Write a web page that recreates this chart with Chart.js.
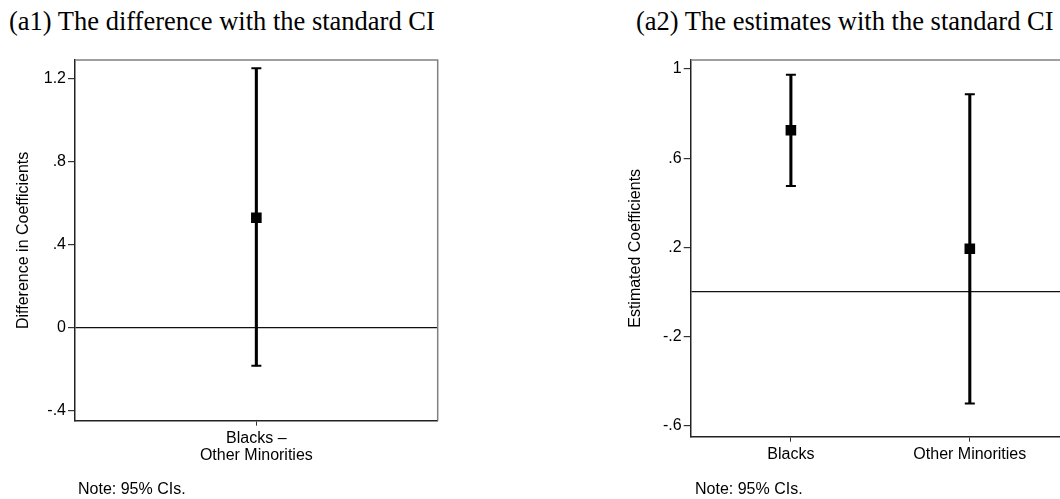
<!DOCTYPE html>
<html>
<head>
<meta charset="utf-8">
<script src="https://cdn.jsdelivr.net/npm/chart.js@4"></script>
<style>
  body { margin: 0; width: 1060px; height: 499px; overflow: hidden; background: #fff; position: relative; }
  canvas { position: absolute; top: 0; }
  .title { position: absolute; top: 8px; font: 26.5px "Liberation Serif", serif; line-height: 26px; color: #000; white-space: nowrap; }
  .note { position: absolute; top: 481px; font: 16px "Liberation Sans", Arial, sans-serif; line-height: 16px; color: #000; white-space: nowrap; }
</style>
</head>
<body>
<div class="title" style="left:9px">(a1) The difference with the standard CI</div>
<div class="title" style="left:636px">(a2) The estimates with the standard CI</div>
<canvas id="diffChart" width="530" height="499" style="left:0"></canvas>
<canvas id="estChart" width="600" height="499" style="left:530px"></canvas>
<div class="note" style="left:78px">Note: 95% CIs.</div>
<div class="note" style="left:695px">Note: 95% CIs.</div>
<script>
// (a1) difference
const diffLabels = [["Blacks \u2013", "Other Minorities"]];
const diffEst = [0.530];
const diffLow = [-0.183];
const diffHigh = [1.249];
const diffTicks = [-0.4, 0, 0.4, 0.8, 1.2];

// (a2) estimates
const estLabels = ["Blacks", "Other Minorities"];
const estEst = [0.725, 0.194];
const estLow = [0.475, -0.500];
const estHigh = [0.974, 0.886];
const estTicks = [-0.6, -0.2, 0.2, 0.6, 1];

const sans = "'Liberation Sans', Arial, sans-serif";

function fmtTick(v) {
  let s = String(+v.toFixed(1));
  return s.replace(/^(-?)0\./, "$1.");
}

const boxLines = {
  id: "boxLines",
  afterDraw(chart) {
    const { ctx, chartArea: a } = chart;
    ctx.save();
    ctx.strokeStyle = "#808080";
    ctx.lineWidth = 1.5;
    ctx.beginPath();
    ctx.moveTo(a.left, a.top);
    ctx.lineTo(a.right, a.top);
    ctx.lineTo(a.right, a.bottom);
    ctx.stroke();
    ctx.restore();
  }
};

function makeChart(id, labels, est, low, high, ticks, opt) {
  const pts = (arr) => arr.map((v, i) => ({ x: i + 1, y: v }));
  const shown = (v) => ticks.some((t) => Math.abs(t - v) < 1e-9);
  return new Chart(document.getElementById(id), {
    type: "scatter",
    data: {
      datasets: [
        { data: pts(est), pointStyle: "rect", pointRadius: 7.5, backgroundColor: "#000", borderColor: "#000", borderWidth: 0 },
        { data: pts(high), pointStyle: "line", pointRadius: 5, borderColor: "#000", borderWidth: 2 },
        { data: pts(low), pointStyle: "line", pointRadius: 5, borderColor: "#000", borderWidth: 2 },
        {
          type: "bar",
          data: low.map((v, i) => ({ x: i + 1, y: [v, high[i]] })),
          barThickness: 2.4,
          backgroundColor: "#000"
        }
      ]
    },
    options: {
      responsive: false,
      animation: false,
      events: [],
      layout: { padding: opt.padding },
      plugins: { legend: { display: false }, tooltip: { enabled: false } },
      scales: {
        x: {
          type: "linear",
          offset: false,
          min: opt.xMin,
          max: opt.xMax,
          afterBuildTicks: (s) => { s.ticks = labels.map((l, i) => ({ value: i + 1 })); },
          afterFit: (s) => { s.height = opt.xHeight; },
          border: { display: true, color: "#222", width: 1.5 },
          grid: { offset: false, drawOnChartArea: false, drawTicks: true, tickLength: 5, tickColor: "#333" },
          ticks: {
            autoSkip: false,
            maxRotation: 0,
            padding: 4,
            color: "#000",
            font: { family: sans, size: 16, lineHeight: "17px" },
            callback: (v) => labels[Math.round(v) - 1]
          }
        },
        y: {
          min: opt.yMin,
          max: opt.yMax,
          // zero reference line is drawn as a grid line, so 0 is always a tick
          afterBuildTicks: (s) => {
            const vals = shown(0) ? ticks : ticks.concat([0]);
            s.ticks = vals.map((v) => ({ value: v }));
          },
          afterFit: (s) => { s.width = 75; },
          border: { display: true, color: "#222", width: 1.5 },
          grid: {
            drawTicks: true,
            tickLength: 7,
            tickColor: (c) => (c.tick && shown(c.tick.value) ? "#333" : "rgba(0,0,0,0)"),
            color: (c) => (c.tick && c.tick.value === 0 ? "#111" : "rgba(0,0,0,0)"),
            lineWidth: 1.2
          },
          ticks: {
            padding: 2,
            color: "#000",
            font: { family: sans, size: 16 },
            callback: (v) => (shown(v) ? fmtTick(v) : "")
          },
          title: {
            display: true,
            text: opt.yTitle,
            color: "#000",
            font: { family: sans, size: 16 },
            padding: { top: opt.titlePad, bottom: 0 }
          }
        }
      }
    },
    plugins: [boxLines]
  });
}

makeChart("diffChart", diffLabels, diffEst, diffLow, diffHigh, diffTicks, {
  padding: { left: 0, top: 60, right: 92.3, bottom: 28.3 },
  xHeight: 50, xMin: 0.5, xMax: 1.5,
  yMin: -0.447, yMax: 1.289,
  yTitle: "Difference in Coefficients", titlePad: 13.5
});

makeChart("estChart", estLabels, estEst, estLow, estHigh, estTicks, {
  padding: { left: 85.7, top: 60, right: 60, bottom: 22.3 },
  xHeight: 40, xMin: 0.44, xMax: 2.56,
  yMin: -0.649, yMax: 1.04,
  yTitle: "Estimated Coefficients", titlePad: 10.5
});
</script>
</body>
</html>
